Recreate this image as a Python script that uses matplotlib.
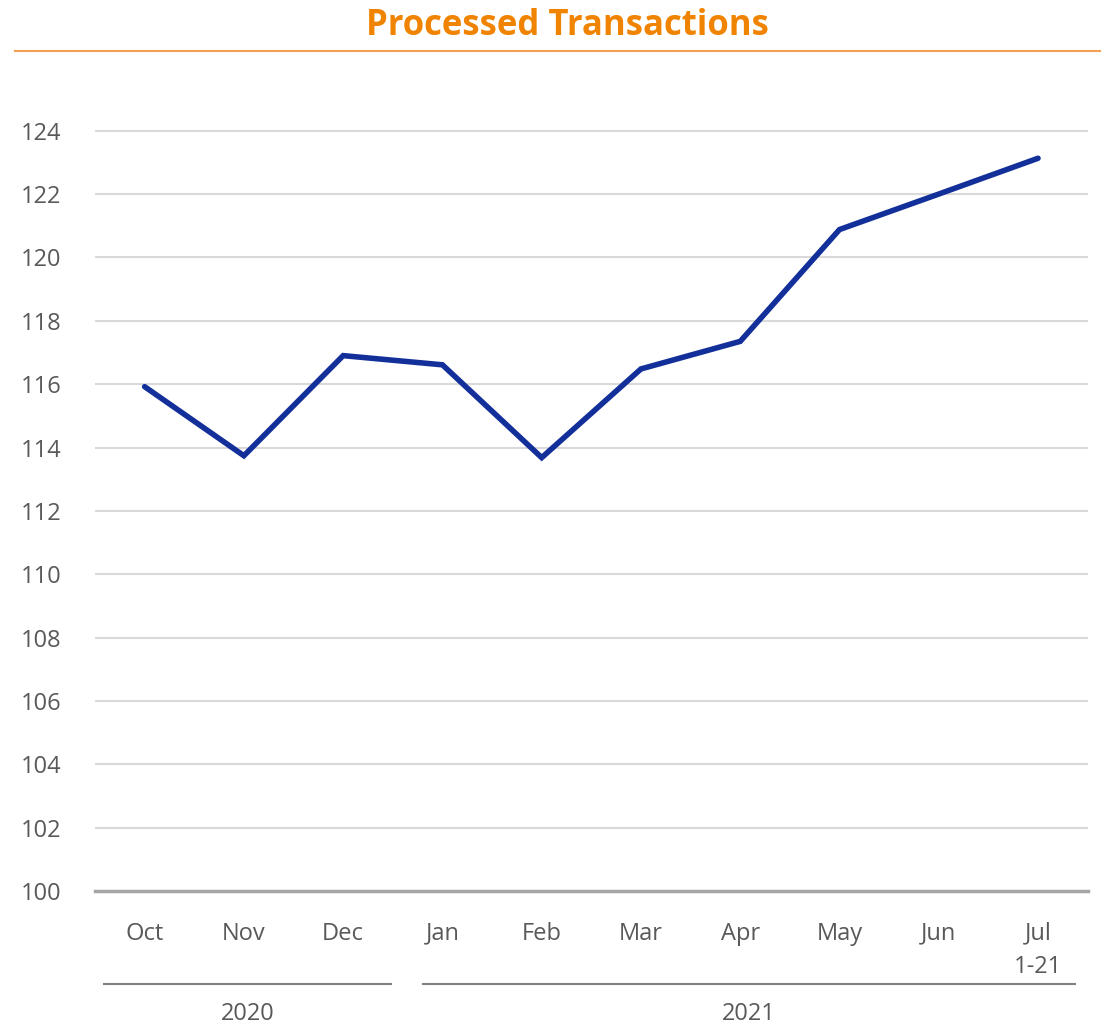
import numpy as np
import matplotlib.pyplot as plt
from matplotlib.lines import Line2D

plt.rcParams['font.family'] = ['Open Sans', 'DejaVu Sans']

months = ["Oct", "Nov", "Dec", "Jan", "Feb", "Mar", "Apr", "May", "Jun", "Jul\n1-21"]
values = [115.92, 113.74, 116.9, 116.61, 113.68, 116.48, 117.35, 120.88, 122.0, 123.13]
years = ["2020", "2021"]
year_spans = [(0, 2), (3, 9)]
yticks = list(range(100, 125, 2))

grey = "#595959"

fig = plt.figure(figsize=(11.02, 10.25), dpi=100)
ax = fig.add_axes([0.0862, 0.1307, 0.9008, 0.7727])

x = np.arange(len(months))
ax.plot(x, values, color="#13309A", linewidth=4, solid_capstyle="round", solid_joinstyle="miter", zorder=3)

ax.set_xlim(-0.5, len(months) - 0.5)
ax.set_ylim(100, 125)
ax.set_yticks(yticks)
ax.set_yticklabels([str(t) for t in yticks], fontsize=17, color=grey)
ax.set_xticks(x)
ax.set_xticklabels(months, fontsize=17, color=grey, linespacing=1.55, va="top")
ax.tick_params(axis="both", length=0)
ax.tick_params(axis="y", pad=24)
ax.tick_params(axis="x", pad=22)

ax.grid(axis="y", color="#D9D9D9", linewidth=1.5)
ax.set_axisbelow(True)
for s in ["top", "right", "left"]:
    ax.spines[s].set_visible(False)
ax.spines["bottom"].set_color("#A6A6A6")
ax.spines["bottom"].set_linewidth(2.5)

# year group labels below the month labels
trans = ax.get_xaxis_transform()
pads = [(0.41, 0.48), (0.2, 0.37)]
for yr, (a, b), (pl, pr) in zip(years, year_spans, pads):
    x0, x1 = a - pl, b + pr
    ax.add_line(Line2D([x0, x1], [-0.117, -0.117], transform=trans,
                       color="#808080", linewidth=1.5, clip_on=False))
    ax.text((x0 + x1) / 2, -0.155, yr, transform=trans, ha="center", va="center",
            fontsize=17, color=grey)

# title with underline
fig.text(0.515, 0.975, "Processed Transactions", ha="center", va="center",
         fontsize=25, fontweight="bold", color="#F08300")
fig.add_artist(Line2D([0.0136, 0.998], [0.9505, 0.9505], color="#F5A050", linewidth=1.5))

fig.savefig("out.png", dpi=100)
